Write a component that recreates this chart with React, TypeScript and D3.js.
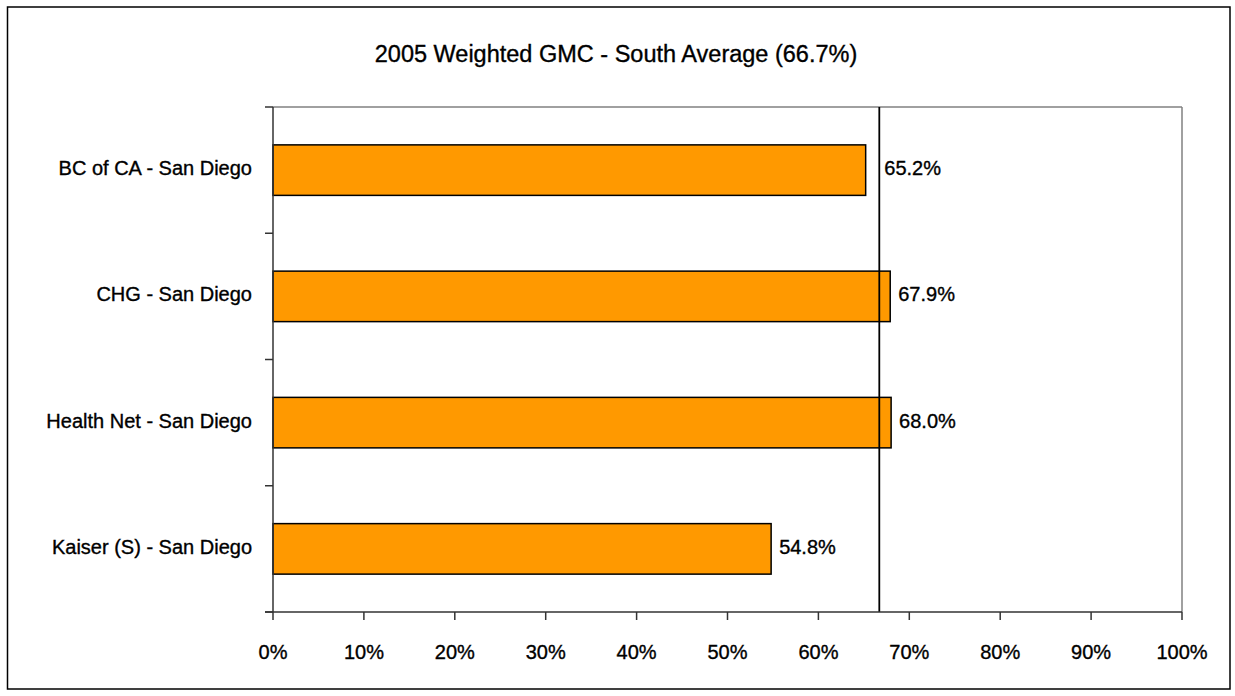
import React from "react";
import * as d3 from "d3";

const categories = [
  "BC of CA - San Diego",
  "CHG - San Diego",
  "Health Net - San Diego",
  "Kaiser (S) - San Diego",
];
const values = [65.2, 67.9, 68.0, 54.8];
const average = 66.7;
const tickValues = [0, 10, 20, 30, 40, 50, 60, 70, 80, 90, 100];
const title = "2005 Weighted GMC - South Average (66.7%)";

const W = 1235;
const H = 696;
const plot = { left: 273, right: 1182, top: 107, bottom: 612 };
const FONT = "'Liberation Sans', Arial, sans-serif";
const TXT = { fill: "#000", stroke: "#000", strokeWidth: 0.35 };

export default function App() {
  const x = d3.scaleLinear().domain([0, 100]).range([plot.left, plot.right]);
  const y = d3
    .scaleBand<string>()
    .domain(categories)
    .range([plot.top, plot.bottom])
    .paddingInner(0.6)
    .paddingOuter(0.3);
  const boundaries = d3
    .range(categories.length + 1)
    .map((i) => plot.top + i * ((plot.bottom - plot.top) / categories.length));
  const avgX = x(average);

  return (
    <svg
      width={W}
      height={H}
      style={{ position: "absolute", left: 0, top: 0 }}
      fontFamily={FONT}
    >
      <rect x={0} y={0} width={W} height={H} fill="#fff" />
      <rect x={7.5} y={7} width={1222.5} height={682} fill="none" stroke="#000" strokeWidth={1.5} />
      <text x={616} y={62} textAnchor="middle" fontSize={23.5} {...TXT}>
        {title}
      </text>
      {/* plot frame */}
      <line x1={plot.left} x2={plot.right} y1={plot.top} y2={plot.top} stroke="#808080" strokeWidth={1.5} />
      <line x1={plot.right} x2={plot.right} y1={plot.top} y2={plot.bottom} stroke="#808080" strokeWidth={1.5} />
      {/* bars */}
      {categories.map((c, i) => (
        <rect
          key={c}
          x={x(0)}
          y={y(c)!}
          width={x(values[i]) - x(0)}
          height={y.bandwidth()}
          fill="#FF9900"
          stroke="#000"
          strokeWidth={1.5}
        />
      ))}
      {/* average line */}
      <line x1={avgX} x2={avgX} y1={plot.top} y2={plot.bottom} stroke="#000" strokeWidth={1.8} />
      {/* axes */}
      <line x1={plot.left} x2={plot.left} y1={plot.top} y2={plot.bottom} stroke="#333" strokeWidth={1.5} />
      <line x1={plot.left - 8} x2={plot.right} y1={plot.bottom} y2={plot.bottom} stroke="#333" strokeWidth={1.5} />
      {boundaries.map((b, i) => (
        <line key={i} x1={plot.left - 8} x2={plot.left} y1={b} y2={b} stroke="#333" strokeWidth={1.5} />
      ))}
      {tickValues.map((t) => (
        <g key={t}>
          <line x1={x(t)} x2={x(t)} y1={plot.bottom} y2={plot.bottom + 8} stroke="#333" strokeWidth={1.5} />
          <text x={x(t)} y={659} textAnchor="middle" fontSize={20} {...TXT}>
            {t}%
          </text>
        </g>
      ))}
      {categories.map((c) => (
        <text
          key={c}
          x={252}
          y={y(c)! + y.bandwidth() / 2 + 5}
          textAnchor="end"
          fontSize={20}
          {...TXT}
        >
          {c}
        </text>
      ))}
      {categories.map((c, i) => {
        const end = x(values[i]);
        const lx = end < avgX && avgX - end < 20 ? avgX + 5 : end + 8;
        return (
          <text key={c} x={lx} y={y(c)! + y.bandwidth() / 2 + 5} fontSize={20} {...TXT}>
            {values[i].toFixed(1)}%
          </text>
        );
      })}
    </svg>
  );
}
